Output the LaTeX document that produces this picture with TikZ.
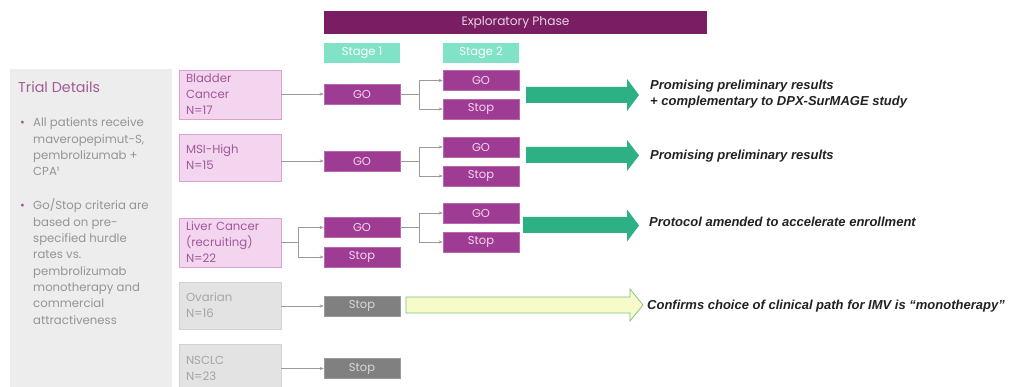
\documentclass[tikz,border=0pt]{standalone}
\usepackage{fontspec}
\setmainfont{Poppins}
\newfontfamily\arl{Liberation Sans}
\usetikzlibrary{arrows.meta}
\definecolor{panelgray}{HTML}{EDEDED}
\definecolor{lefttext}{HTML}{959595}
\definecolor{titlepurp}{HTML}{A35A97}
\definecolor{disfill}{HTML}{F3D5EF}
\definecolor{disborder}{HTML}{D9A2D2}
\definecolor{distext}{HTML}{A0589A}
\definecolor{gdfill}{HTML}{E3E3E3}
\definecolor{gdborder}{HTML}{D3D3D3}
\definecolor{gdtext}{HTML}{A5A5A5}
\definecolor{stgp}{HTML}{9E3C93}
\definecolor{stgpb}{HTML}{B869AE}
\definecolor{stgtext}{HTML}{F3D6EF}
\definecolor{stopgray}{HTML}{808080}
\definecolor{stopgrayb}{HTML}{9A9A9A}
\definecolor{stoptext}{HTML}{D9D9D9}
\definecolor{explor}{HTML}{7A1E63}
\definecolor{explortext}{HTML}{E8D2E2}
\definecolor{teal}{HTML}{80E3C8}
\definecolor{congray}{HTML}{9A9A9A}
\definecolor{greenarr}{HTML}{2DB083}
\definecolor{yelfill}{HTML}{F7FBC9}
\definecolor{yelborder}{HTML}{82BD84}
\definecolor{restext}{HTML}{222222}
\begin{document}
\begin{tikzpicture}[x=1pt,y=-1pt,
  dis/.style={draw=disborder, fill=disfill, text=distext, align=left,
    text width=88pt, inner xsep=7pt, inner ysep=0pt, minimum width=102pt,
    font=\fontsize{11.7}{16}\selectfont, line width=0.8pt},
  gdis/.style={dis, draw=gdborder, fill=gdfill, text=gdtext},
  stgbox/.style={fill=stgp, draw=stgpb, text=stgtext, minimum width=76pt,
    minimum height=20pt, inner sep=0pt, line width=0.6pt,
    font=\fontsize{11.5}{12}\selectfont},
  stopbox/.style={stgbox, fill=stopgray, draw=stopgrayb, text=stoptext},
  lblbox/.style={fill=teal, text=white, minimum width=76pt, minimum height=20pt,
    inner sep=0pt, font=\fontsize{11.5}{12}\selectfont},
  con/.style={draw=congray, line width=0.6pt},
  arr/.style={con, -{Stealth[length=4pt,width=3.2pt]}},
  res/.style={font=\arl\bfseries\itshape\fontsize{13}{16}\selectfont,
    anchor=base west, inner sep=0pt, text=restext},
  lt/.style={font=\fontsize{11.7}{14}\selectfont, text=lefttext,
    anchor=base west, inner sep=0pt}
]
\clip (0,0) rectangle (1011,387);
\fill[white] (0,0) rectangle (1011,387);

% left panel
\fill[panelgray] (10,69) rectangle (172,400);
\node[font=\fontsize{14.3}{16}\selectfont, text=titlepurp, anchor=base west, inner sep=0pt] (title) at (18,93) {Trial Details};
\node[lt, text=titlepurp] (b1) at (20,127) {•};
\foreach \t [count=\i] in {All patients receive, {maveropepimut-S,}, pembrolizumab +, CPA¹}
  \node[lt] (l1\i) at (33,{127+(\i-1)*16.3}) {\t};
\node[lt, text=titlepurp] (b2) at (20,210) {•};
\foreach \t [count=\i] in {Go/Stop criteria are, based on pre-, specified hurdle, rates vs., pembrolizumab, monotherapy and, commercial, attractiveness}
  \node[lt] (l2\i) at (33,{210+(\i-1)*16.3}) {\t};

% header
\node[fill=explor, text=explortext, minimum width=383pt, minimum height=23pt, inner sep=0pt,
  font=\fontsize{12.2}{13}\selectfont] (phase) at (515.5,22.5) {Exploratory Phase};
\node[lblbox] (st1) at (362,53) {Stage 1};
\node[lblbox] (st2) at (481,53) {Stage 2};

% disease boxes
\node[dis, minimum height=49pt] (bladder) at (230,94.5) {Bladder\\Cancer\\N=17};
\node[dis, minimum height=47pt] (msi) at (230,157.5) {MSI-High\\N=15};
\node[dis, minimum height=49pt] (liver) at (230,242.5) {Liver Cancer\\(recruiting)\\N=22};
\node[gdis, minimum height=47pt] (ovarian) at (230,305.5) {Ovarian\\N=16};
\node[gdis, minimum height=48pt, anchor=north] (nsclc) at (230,344) {NSCLC\\N=23};

% stage 1
\node[stgbox] (g1) at (362,94) {GO};
\node[stgbox] (g2) at (362,161) {GO};
\node[stgbox] (g3) at (362,227.5) {GO};
\node[stgbox] (s3) at (362,257) {Stop};
\node[stopbox] (s4) at (362,306) {Stop};
\node[stopbox] (s5) at (362,368.5) {Stop};

% stage 2
\node[stgbox] (g1b) at (481,80.5) {GO};
\node[stgbox] (s1b) at (481,109) {Stop};
\node[stgbox] (g2b) at (481,147) {GO};
\node[stgbox] (s2b) at (481,176) {Stop};
\node[stgbox] (g3b) at (481,213) {GO};
\node[stgbox] (s3b) at (481,242) {Stop};

% connectors disease -> stage 1
\draw[arr] (bladder.east |- g1) -- (g1.west);
\draw[arr] (msi.east |- g2) -- (g2.west);
\draw[con] (liver.east) -- ++(17,0) coordinate (jl);
\draw[arr] (jl) |- (g3.west);
\draw[arr] (jl) |- (s3.west);
\draw[arr] (ovarian.east |- s4) -- (s4.west);
\draw[arr] (nsclc.east |- s5) -- (s5.west);

% stage 1 -> stage 2
\draw[con] (g1.east) -- ++(19,0) coordinate (j1);
\draw[arr] (j1) |- (g1b.west);
\draw[arr] (j1) |- (s1b.west);
\draw[con] (g2.east) -- ++(19,0) coordinate (j2);
\draw[arr] (j2) |- (g2b.west);
\draw[arr] (j2) |- (s2b.west);
\draw[con] (g3.east) -- ++(19,0) coordinate (j3);
\draw[arr] (j3) |- (g3b.west);
\draw[arr] (j3) |- (s3b.west);

% big arrows
\fill[greenarr] (526,87) -- (627,87) -- (627,79) -- (639,95) -- (627,111) -- (627,103) -- (526,103) -- cycle;
\fill[greenarr] (526,147) -- (627,147) -- (627,140) -- (639,155.5) -- (627,171) -- (627,163) -- (526,163) -- cycle;
\fill[greenarr] (523,217) -- (627,217) -- (627,209.5) -- (639,225.5) -- (627,241.5) -- (627,233) -- (523,233) -- cycle;
\draw[fill=yelfill, draw=yelborder, line width=0.7pt] (406,297) -- (630,297) -- (630,289) -- (643,305) -- (630,321) -- (630,313) -- (406,313) -- cycle;

% result texts
\node[res] (r1a) at (650,89.5) {Promising preliminary results};
\node[res] (r1b) at (650,105.5) {+ complementary to DPX-SurMAGE study};
\node[res] (r2) at (650,159.5) {Promising preliminary results};
\node[res] (r3) at (649,226.5) {Protocol amended to accelerate enrollment};
\node[res] (r4) at (647,309.5) {Confirms choice of clinical path for IMV is “monotherapy”};
\end{tikzpicture}
\end{document}
